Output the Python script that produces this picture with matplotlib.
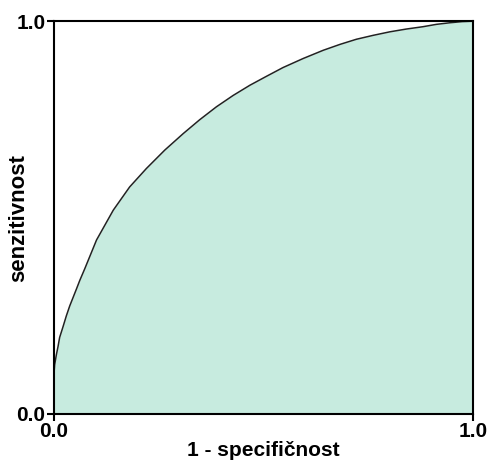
import matplotlib
matplotlib.use('Agg')
import matplotlib.pyplot as plt

# ROC points
fpr = [0.0, 0.0, 0.002, 0.006, 0.010, 0.014, 0.022, 0.030, 0.038, 0.054,
       0.062, 0.074, 0.102, 0.142, 0.181, 0.221, 0.265, 0.309, 0.348, 0.388,
       0.428, 0.468, 0.508, 0.547, 0.595, 0.643, 0.683, 0.722, 0.762, 0.802,
       0.841, 0.881, 0.913, 0.945, 0.975, 1.0]
tpr = [0.0, 0.095, 0.125, 0.150, 0.171, 0.195, 0.222, 0.250, 0.275, 0.318,
       0.340, 0.370, 0.443, 0.519, 0.578, 0.625, 0.672, 0.714, 0.749, 0.782,
       0.811, 0.837, 0.860, 0.882, 0.905, 0.926, 0.941, 0.954, 0.964, 0.973,
       0.980, 0.986, 0.992, 0.996, 0.999, 1.0]

tick_vals = [0.0, 1.0]
tick_labels = ['0.0', '1.0']

plt.rcParams['font.family'] = ['Liberation Sans', 'DejaVu Sans']

fig = plt.figure(figsize=(4.89, 4.61), dpi=100)
ax = fig.add_axes([0.110, 0.102, 0.857, 0.852])

ax.fill_between(fpr, tpr, 0, color='#c7ebdf', lw=0)
ax.plot(fpr, tpr, color='#222222', lw=1.1, solid_joinstyle='round')

ax.set_xlim(0, 1)
ax.set_ylim(0, 1)
ax.set_xticks(tick_vals)
ax.set_xticklabels(tick_labels, fontweight='bold', fontsize=15)
ax.set_yticks(tick_vals)
ax.set_yticklabels(tick_labels, fontweight='bold', fontsize=15)
ax.tick_params(length=5, width=1.5, pad=1)
for s in ax.spines.values():
    s.set_linewidth(1.5)

ax.set_xlabel('1 - specifičnost', fontweight='bold', fontsize=15, labelpad=0)
ax.set_ylabel('senzitivnost', fontweight='bold', fontsize=16, labelpad=-9)

plt.savefig('out.png', dpi=100)
